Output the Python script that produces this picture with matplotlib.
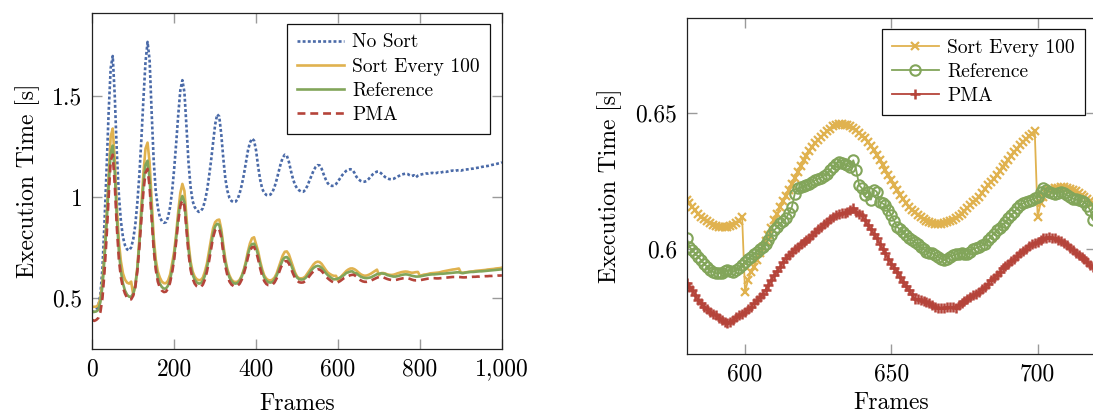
import numpy as np
import matplotlib
matplotlib.use('Agg')
import matplotlib.pyplot as plt
from matplotlib.ticker import FuncFormatter

plt.rcParams['font.family'] = ['cmr10', 'DejaVu Serif']
plt.rcParams['axes.formatter.use_mathtext'] = True

C_NOSORT = '#4a6aa8'
C_SORT = '#e0b24f'
C_REF = '#82a55a'
C_PMA = '#b5443a'

# ── full run, sampled every 5 frames ──────────────────────────────
frames = list(range(0, 1001, 5))

no_sort = [
    0.43, 0.43, 0.44, 0.46, 0.52, 0.65, 0.88, 1.14, 1.42, 1.64,
    1.70, 1.50, 1.22, 1.01, 0.88, 0.80, 0.76, 0.74, 0.735, 0.75,
    0.79, 0.86, 0.97, 1.11, 1.29, 1.49, 1.67, 1.77, 1.68, 1.42,
    1.18, 1.03, 0.95, 0.90, 0.88, 0.872, 0.875, 0.90, 0.95, 1.03,
    1.14, 1.27, 1.41, 1.53, 1.58, 1.52, 1.35, 1.17, 1.05, 0.98,
    0.95, 0.935, 0.926, 0.93, 0.945, 0.98, 1.03, 1.10, 1.18, 1.27,
    1.36, 1.41, 1.40, 1.31, 1.19, 1.09, 1.03, 0.995, 0.98, 0.975,
    0.977, 0.99, 1.02, 1.06, 1.11, 1.17, 1.23, 1.27, 1.29, 1.28,
    1.23, 1.15, 1.085, 1.04, 1.02, 1.01, 1.008, 1.012, 1.025, 1.05,
    1.085, 1.125, 1.165, 1.195, 1.21, 1.205, 1.175, 1.13, 1.09, 1.06,
    1.043, 1.033, 1.027, 1.026, 1.035, 1.055, 1.08, 1.105, 1.13, 1.148,
    1.158, 1.157, 1.14, 1.112, 1.087, 1.068, 1.058, 1.055, 1.056, 1.064,
    1.078, 1.093, 1.108, 1.12, 1.13, 1.136, 1.138, 1.135, 1.12, 1.10,
    1.088, 1.08, 1.076, 1.076, 1.08, 1.09, 1.102, 1.113, 1.121, 1.126,
    1.126, 1.118, 1.108, 1.099, 1.093, 1.089, 1.088, 1.090, 1.095, 1.101,
    1.106, 1.111, 1.114, 1.116, 1.114, 1.108, 1.104, 1.108, 1.098, 1.106,
    1.110, 1.113, 1.115, 1.117, 1.116, 1.118, 1.120, 1.117, 1.119, 1.122,
    1.121, 1.124, 1.126, 1.125, 1.128, 1.130, 1.131, 1.129, 1.132, 1.133,
    1.131, 1.134, 1.136, 1.137, 1.138, 1.140, 1.141, 1.143, 1.145, 1.146,
    1.149, 1.151, 1.153, 1.154, 1.156, 1.159, 1.161, 1.163, 1.166, 1.168,
    1.172]

sort_100 = [
    0.455, 0.455, 0.456, 0.465, 0.50, 0.58, 0.72, 0.90, 1.10, 1.30,
    1.34, 1.18, 0.95, 0.78, 0.68, 0.62, 0.59, 0.575, 0.57, 0.58,
    0.515, 0.56, 0.65, 0.79, 0.96, 1.12, 1.24, 1.27, 1.17, 0.98,
    0.80, 0.69, 0.63, 0.60, 0.58, 0.572, 0.572, 0.585, 0.615, 0.67,
    0.73, 0.82, 0.93, 1.02, 1.065, 1.03, 0.90, 0.77, 0.68, 0.63,
    0.605, 0.592, 0.587, 0.588, 0.60, 0.63, 0.67, 0.73, 0.79, 0.845,
    0.875, 0.885, 0.888, 0.84, 0.76, 0.69, 0.64, 0.61, 0.59, 0.58,
    0.578, 0.58, 0.59, 0.61, 0.64, 0.68, 0.73, 0.77, 0.795, 0.80,
    0.765, 0.73, 0.68, 0.64, 0.61, 0.595, 0.587, 0.586, 0.59, 0.60,
    0.62, 0.65, 0.68, 0.71, 0.728, 0.73, 0.715, 0.685, 0.655, 0.625,
    0.605, 0.597, 0.596, 0.598, 0.605, 0.62, 0.635, 0.65, 0.665, 0.675,
    0.679, 0.677, 0.668, 0.653, 0.638, 0.625, 0.618, 0.612, 0.6085, 0.6088,
    0.5844, 0.5985, 0.6107, 0.6217, 0.6326, 0.640, 0.645, 0.6455, 0.6416, 0.6345,
    0.6253, 0.617, 0.6118, 0.6092, 0.6102, 0.614, 0.6192, 0.626, 0.633, 0.6393,
    0.6119, 0.6222, 0.6226, 0.6203, 0.6162, 0.614, 0.613, 0.614, 0.617, 0.621,
    0.624, 0.627, 0.629, 0.630, 0.629, 0.626, 0.624, 0.625, 0.627, 0.628,
    0.608, 0.612, 0.615, 0.616, 0.618, 0.621, 0.622, 0.623, 0.624, 0.625,
    0.627, 0.630, 0.632, 0.634, 0.636, 0.638, 0.640, 0.641, 0.643, 0.645,
    0.623, 0.624, 0.626, 0.627, 0.629, 0.630, 0.631, 0.633, 0.634, 0.635,
    0.636, 0.637, 0.638, 0.640, 0.641, 0.642, 0.643, 0.645, 0.646, 0.647,
    0.649]

reference = [
    0.43, 0.43, 0.432, 0.44, 0.48, 0.56, 0.70, 0.87, 1.06, 1.22,
    1.255, 1.12, 0.90, 0.73, 0.63, 0.57, 0.535, 0.515, 0.505, 0.505,
    0.52, 0.56, 0.64, 0.77, 0.92, 1.07, 1.16, 1.18, 1.09, 0.92,
    0.76, 0.66, 0.60, 0.57, 0.553, 0.545, 0.546, 0.56, 0.59, 0.64,
    0.71, 0.80, 0.90, 0.975, 1.005, 0.975, 0.86, 0.74, 0.66, 0.615,
    0.59, 0.576, 0.570, 0.572, 0.583, 0.61, 0.65, 0.70, 0.76, 0.82,
    0.855, 0.867, 0.862, 0.82, 0.74, 0.675, 0.63, 0.60, 0.582, 0.572,
    0.570, 0.573, 0.584, 0.605, 0.635, 0.67, 0.715, 0.75, 0.766, 0.768,
    0.748, 0.71, 0.665, 0.627, 0.60, 0.585, 0.577, 0.575, 0.578, 0.59,
    0.61, 0.635, 0.663, 0.688, 0.700, 0.702, 0.69, 0.665, 0.638, 0.615,
    0.60, 0.592, 0.59, 0.591, 0.597, 0.608, 0.622, 0.637, 0.648, 0.655,
    0.658, 0.656, 0.648, 0.636, 0.623, 0.612, 0.6043, 0.596, 0.5912, 0.592,
    0.5954, 0.600, 0.607, 0.613, 0.6231, 0.626, 0.6302, 0.631, 0.6223, 0.621,
    0.6125, 0.605, 0.6009, 0.598, 0.5973, 0.599, 0.6009, 0.606, 0.6113, 0.617,
    0.6192, 0.621, 0.6198, 0.618, 0.6125, 0.610, 0.607, 0.605, 0.605, 0.607,
    0.610, 0.613, 0.615, 0.616, 0.615, 0.612, 0.609, 0.607, 0.605, 0.605,
    0.606, 0.608, 0.610, 0.612, 0.614, 0.615, 0.616, 0.616, 0.617, 0.618,
    0.619, 0.619, 0.620, 0.621, 0.622, 0.623, 0.624, 0.625, 0.626, 0.626,
    0.624, 0.622, 0.624, 0.626, 0.627, 0.628, 0.628, 0.629, 0.630, 0.631,
    0.631, 0.632, 0.633, 0.634, 0.635, 0.636, 0.637, 0.638, 0.639, 0.640,
    0.641]

pma = [
    0.39, 0.385, 0.39, 0.40, 0.43, 0.50, 0.63, 0.80, 1.00, 1.18,
    1.21, 1.06, 0.85, 0.69, 0.60, 0.55, 0.52, 0.50, 0.49, 0.492,
    0.51, 0.55, 0.63, 0.75, 0.89, 1.03, 1.12, 1.14, 1.05, 0.89,
    0.74, 0.64, 0.58, 0.55, 0.535, 0.528, 0.53, 0.545, 0.575, 0.625,
    0.69, 0.78, 0.88, 0.955, 0.984, 0.955, 0.84, 0.72, 0.64, 0.595,
    0.57, 0.557, 0.552, 0.553, 0.565, 0.59, 0.63, 0.68, 0.74, 0.80,
    0.835, 0.846, 0.84, 0.80, 0.72, 0.655, 0.61, 0.58, 0.565, 0.558,
    0.556, 0.56, 0.57, 0.59, 0.62, 0.655, 0.70, 0.735, 0.75, 0.752,
    0.73, 0.69, 0.645, 0.607, 0.582, 0.568, 0.562, 0.561, 0.565, 0.576,
    0.595, 0.62, 0.648, 0.67, 0.68, 0.682, 0.67, 0.647, 0.62, 0.598,
    0.584, 0.577, 0.575, 0.576, 0.582, 0.593, 0.607, 0.62, 0.631, 0.638,
    0.641, 0.64, 0.632, 0.62, 0.607, 0.596, 0.5877, 0.5805, 0.5759, 0.5735,
    0.5771, 0.5826, 0.5905, 0.598, 0.6027, 0.607, 0.6119, 0.6138, 0.6125, 0.604,
    0.5948, 0.5866, 0.5814, 0.579, 0.579, 0.581, 0.5845, 0.5896, 0.5948, 0.5994,
    0.6027, 0.6043, 0.6015, 0.5971, 0.593, 0.590, 0.588, 0.587, 0.588, 0.590,
    0.593, 0.595, 0.597, 0.598, 0.597, 0.594, 0.590, 0.587, 0.586, 0.586,
    0.587, 0.589, 0.591, 0.593, 0.595, 0.596, 0.597, 0.597, 0.596, 0.596,
    0.597, 0.598, 0.599, 0.600, 0.601, 0.602, 0.603, 0.603, 0.603, 0.603,
    0.602, 0.601, 0.601, 0.602, 0.603, 0.603, 0.604, 0.604, 0.605, 0.605,
    0.606, 0.606, 0.607, 0.607, 0.608, 0.608, 0.609, 0.609, 0.610, 0.610,
    0.611]

# ── zoomed window, every frame 580..720 ───────────────────────────
zoom_frames = list(range(580, 721))

zoom_sort_100 = [
    0.6182, 0.6170, 0.6155, 0.6143, 0.6130, 0.6119, 0.6110, 0.6102, 0.6095, 0.6090,
    0.6085, 0.6083, 0.6082, 0.6082, 0.6083, 0.6085, 0.6088, 0.6095, 0.6104, 0.6119,
    0.5844, 0.5887, 0.5918, 0.5936, 0.5962, 0.5985, 0.6008, 0.6030, 0.6052, 0.6080,
    0.6107, 0.6130, 0.6155, 0.6176, 0.6197, 0.6217, 0.6240, 0.6262, 0.6284, 0.6305,
    0.6326, 0.6342, 0.6360, 0.6375, 0.6388, 0.6400, 0.6412, 0.6422, 0.6432, 0.6442,
    0.6450, 0.6455, 0.6458, 0.6459, 0.6457, 0.6455, 0.6450, 0.6443, 0.6436, 0.6426,
    0.6416, 0.6406, 0.6392, 0.6378, 0.6363, 0.6345, 0.6327, 0.6308, 0.6290, 0.6272,
    0.6253, 0.6235, 0.6216, 0.6198, 0.6184, 0.6170, 0.6155, 0.6145, 0.6135, 0.6125,
    0.6118, 0.6111, 0.6104, 0.6099, 0.6095, 0.6092, 0.6091, 0.6092, 0.6095, 0.6099,
    0.6104, 0.6109, 0.6116, 0.6123, 0.6131, 0.6141, 0.6152, 0.6162, 0.6172, 0.6182,
    0.6192, 0.6206, 0.6221, 0.6235, 0.6247, 0.6259, 0.6271, 0.6285, 0.6300, 0.6314,
    0.6328, 0.6343, 0.6357, 0.6369, 0.6381, 0.6393, 0.6403, 0.6414, 0.6424, 0.6434,
    0.6119, 0.6168, 0.6192, 0.6205, 0.6217, 0.6220, 0.6223, 0.6226, 0.6227, 0.6227,
    0.6226, 0.6222, 0.6218, 0.6214, 0.6207, 0.6199, 0.6192, 0.6185, 0.6176, 0.6168,
    0.6162]

zoom_reference = [
    0.6043, 0.6009, 0.5997, 0.5985, 0.5973, 0.5960, 0.5948, 0.5936, 0.5924, 0.5918,
    0.5912, 0.5913, 0.5914, 0.5919, 0.5924, 0.5921, 0.5918, 0.5924, 0.5930, 0.5942,
    0.5954, 0.5963, 0.5973, 0.5982, 0.5991, 0.6000, 0.6009, 0.6021, 0.6034, 0.6052,
    0.6070, 0.6082, 0.6095, 0.6104, 0.6113, 0.6134, 0.6155, 0.6204, 0.6223, 0.6227,
    0.6231, 0.6236, 0.6241, 0.6247, 0.6253, 0.6258, 0.6263, 0.6269, 0.6275, 0.6289,
    0.6302, 0.6311, 0.6320, 0.6316, 0.6312, 0.6307, 0.6302, 0.6326, 0.6290, 0.6235,
    0.6223, 0.6198, 0.6211, 0.6182, 0.6219, 0.6211, 0.6174, 0.6168, 0.6162, 0.6144,
    0.6125, 0.6104, 0.6082, 0.6073, 0.6064, 0.6052, 0.6040, 0.6034, 0.6027, 0.6018,
    0.6009, 0.6000, 0.5991, 0.5988, 0.5985, 0.5979, 0.5973, 0.5966, 0.5960, 0.5966,
    0.5973, 0.5978, 0.5982, 0.5984, 0.5985, 0.5984, 0.5982, 0.5991, 0.6000, 0.6005,
    0.6009, 0.6015, 0.6021, 0.6034, 0.6046, 0.6058, 0.6070, 0.6080, 0.6089, 0.6101,
    0.6113, 0.6125, 0.6137, 0.6150, 0.6162, 0.6168, 0.6174, 0.6178, 0.6182, 0.6187,
    0.6192, 0.6210, 0.6223, 0.6217, 0.6211, 0.6208, 0.6204, 0.6208, 0.6211, 0.6205,
    0.6198, 0.6192, 0.6186, 0.6183, 0.6180, 0.6177, 0.6174, 0.6160, 0.6143, 0.6107,
    0.6125]

zoom_pma = [
    0.5877, 0.5864, 0.5851, 0.5832, 0.5814, 0.5802, 0.5790, 0.5780, 0.5771, 0.5765,
    0.5759, 0.5750, 0.5741, 0.5735, 0.5729, 0.5735, 0.5743, 0.5751, 0.5759, 0.5765,
    0.5771, 0.5780, 0.5790, 0.5802, 0.5814, 0.5826, 0.5838, 0.5853, 0.5869, 0.5887,
    0.5905, 0.5920, 0.5936, 0.5953, 0.5970, 0.5980, 0.5991, 0.6000, 0.6009, 0.6018,
    0.6027, 0.6035, 0.6043, 0.6053, 0.6064, 0.6073, 0.6082, 0.6091, 0.6101, 0.6110,
    0.6119, 0.6125, 0.6131, 0.6132, 0.6134, 0.6138, 0.6143, 0.6153, 0.6137, 0.6131,
    0.6125, 0.6107, 0.6089, 0.6073, 0.6058, 0.6040, 0.6021, 0.6003, 0.5985, 0.5966,
    0.5948, 0.5933, 0.5918, 0.5900, 0.5881, 0.5866, 0.5851, 0.5835, 0.5820, 0.5817,
    0.5814, 0.5811, 0.5808, 0.5802, 0.5796, 0.5790, 0.5784, 0.5786, 0.5787, 0.5789,
    0.5790, 0.5789, 0.5787, 0.5795, 0.5802, 0.5811, 0.5820, 0.5826, 0.5832, 0.5838,
    0.5845, 0.5854, 0.5863, 0.5875, 0.5887, 0.5896, 0.5905, 0.5918, 0.5930, 0.5939,
    0.5948, 0.5957, 0.5966, 0.5976, 0.5985, 0.5994, 0.6003, 0.6011, 0.6019, 0.6023,
    0.6027, 0.6034, 0.6040, 0.6043, 0.6046, 0.6043, 0.6040, 0.6036, 0.6031, 0.6023,
    0.6015, 0.6006, 0.5997, 0.5988, 0.5979, 0.5971, 0.5963, 0.5953, 0.5942, 0.5936,
    0.5930]

FS = 17
LEG_FS = 14


def style_axes(ax, xlabelpad):
    ax.tick_params(which='both', direction='in', top=True, right=True,
                   length=7, width=1.0, color='#9a9a9a', labelsize=FS, pad=7)
    for sp in ax.spines.values():
        sp.set_linewidth(0.9)
        sp.set_color('#222222')
    ax.xaxis.set_major_formatter(FuncFormatter(lambda v, p: f'{v:,.0f}'))
    ax.yaxis.set_major_formatter(FuncFormatter(lambda v, p: f'{v:g}'))
    ax.set_xlabel('Frames', fontsize=FS, labelpad=xlabelpad)
    ax.set_ylabel('Execution Time [s]', fontsize=FS, labelpad=9)


def add_legend(ax, anchor):
    leg = ax.legend(loc='upper right', bbox_to_anchor=anchor, borderaxespad=0,
                    fontsize=LEG_FS, fancybox=False, framealpha=1,
                    edgecolor='#111111', handlelength=2.4, handletextpad=0.45,
                    borderpad=0.5, labelspacing=0.32, numpoints=1)
    leg.get_frame().set_linewidth(0.9)


fig = plt.figure(figsize=(10.93, 4.15), dpi=100)

# ── left: whole run ───────────────────────────────────────────────
ax = fig.add_axes([0.0844, 0.1598, 0.3748, 0.8096])
ax.plot(frames, no_sort, color=C_NOSORT, lw=1.9, dashes=(1.1, 0.85), label='No Sort')
ax.plot(frames, sort_100, color=C_SORT, lw=1.9, label='Sort Every 100')
ax.plot(frames, reference, color=C_REF, lw=1.9, label='Reference')
ax.plot(frames, pma, color=C_PMA, lw=1.9, dashes=(3, 1.85), label='PMA')
ax.set_xlim(0, 1000)
ax.set_ylim(0.247, 1.915)
ax.set_xticks([0, 200, 400, 600, 800, 1000])
ax.set_yticks([0.5, 1.0, 1.5])
style_axes(ax, 9)
add_legend(ax, (0.97, 0.967))

# ── right: zoom on frames 580..720 (axes runs past the page edge) ─
ax = fig.add_axes([0.6281, 0.147, 0.3748, 0.8104])
ax.plot(zoom_frames, zoom_sort_100, color=C_SORT, lw=1.3, marker='x', ms=5.2,
        mew=1.6, label='Sort Every 100')
ax.plot(zoom_frames, zoom_reference, color=C_REF, lw=1.3, marker='o', ms=7.5,
        mew=1.5, mfc='none', label='Reference')
ax.plot(zoom_frames, zoom_pma, color=C_PMA, lw=1.3, marker='+', ms=6.5,
        mew=1.8, label='PMA')
ax.set_xlim(580, 720)
ax.set_ylim(0.5617, 0.6848)
ax.set_xticks([600, 650, 700])
ax.set_yticks([0.6, 0.65])
style_axes(ax, 4)
add_legend(ax, (0.972, 0.966))

fig.savefig('out.png', dpi=100, facecolor='white')
plt.close()
